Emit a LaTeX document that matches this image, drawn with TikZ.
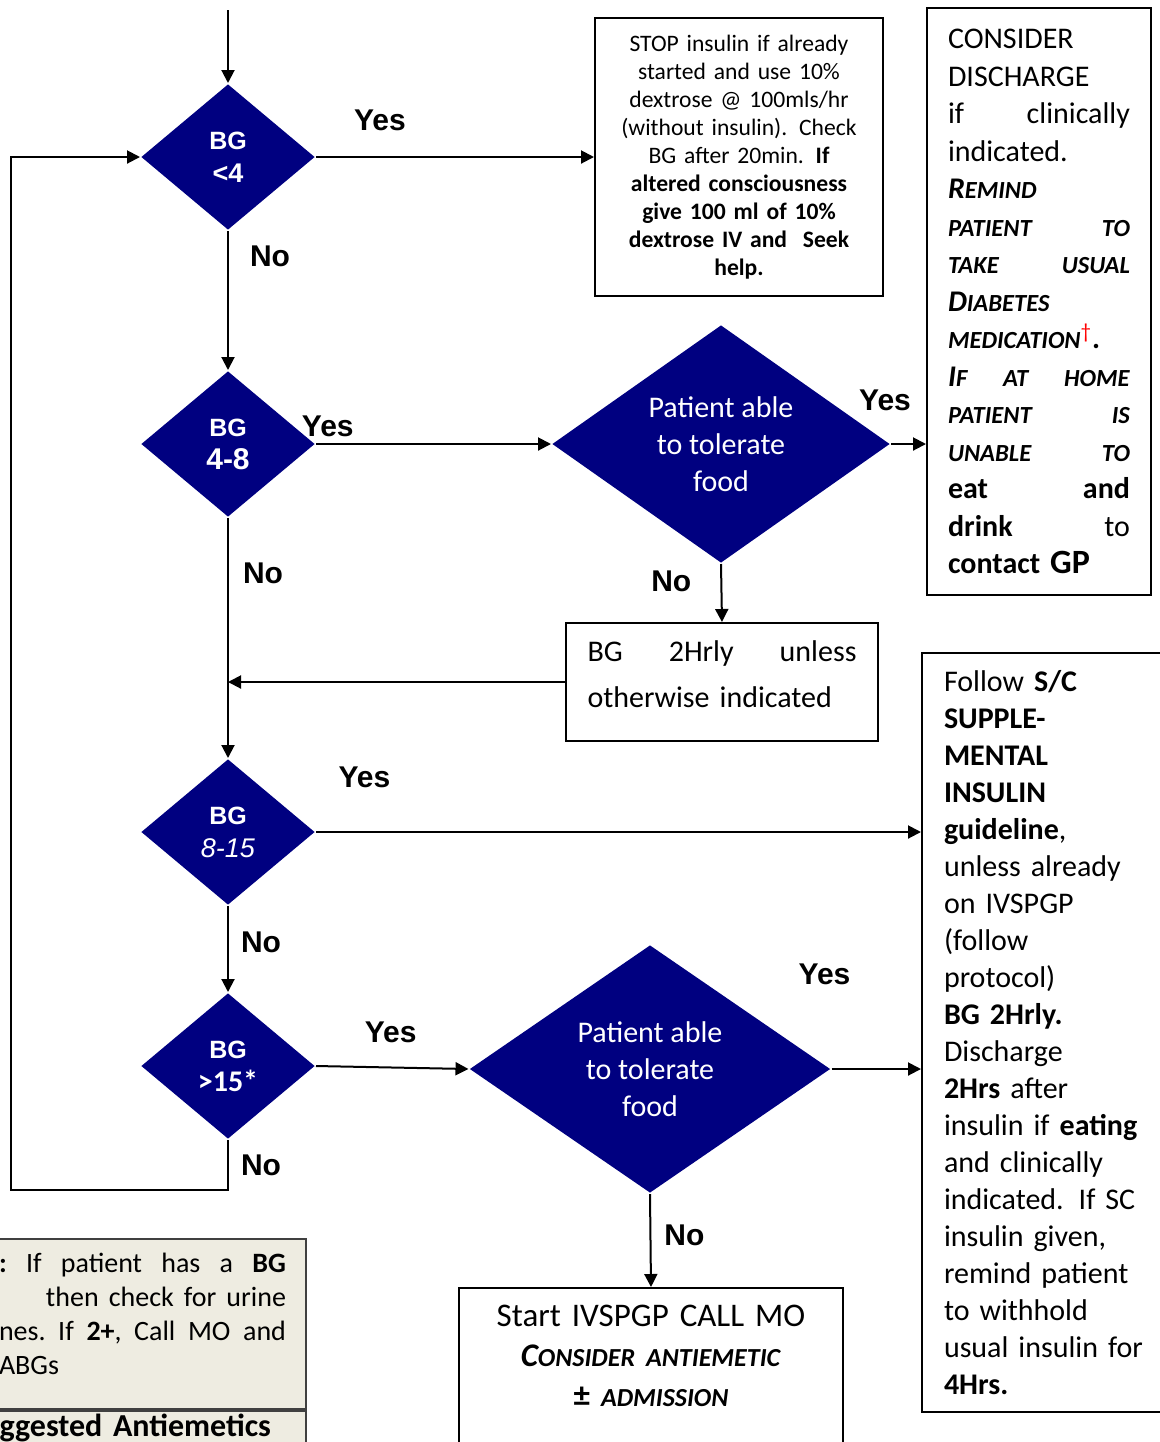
\documentclass[tikz,border=0pt]{standalone}
\usepackage{fontspec}
\setmainfont{Carlito}
\newfontfamily\arialfont{Liberation Sans}
\usepackage{tikz}
\usetikzlibrary{arrows.meta,shapes.geometric}
\definecolor{navy}{RGB}{0,0,128}
\definecolor{notefill}{HTML}{EEECE1}
\definecolor{noteline}{RGB}{64,64,64}
\newcommand{\fsc}[1]{{\fontsize{12.3}{14}\selectfont #1}}

\begin{document}
\begin{tikzpicture}[>={Triangle[length=6.5pt,width=6.5pt]}, x=0.5pt, y=-0.5pt, line width=1pt,
    decision/.style={diamond, aspect=1.4, fill=navy, text=white, inner sep=0pt, align=center},
    bgtest/.style={decision, minimum width=87pt, minimum height=73pt,
      font=\arialfont\bfseries\fontsize{12.5}{16.5}\selectfont},
    foodtest/.style={decision, font=\fontsize{15}{18.5}\selectfont},
    infobox/.style={draw, inner sep=0pt},
    notebox/.style={draw=noteline, fill=notefill, inner ysep=0pt, align=left},
    lbl/.style={inner sep=0pt, font=\arialfont\bfseries\fontsize{15}{18}\selectfont}]
    \useasboundingbox (0,0) rectangle (1160,1442);
    \clip (0,0) rectangle (1160,1442);

    % decisions
    \coordinate (entry) at (228,10);
    \node[bgtest] (bg4)   at (228,157)  {BG\\{\fontsize{13.5}{16.5}\selectfont <4}};
    \node[bgtest] (bg48)  at (228,444)  {BG\\{\fontsize{15}{16.5}\selectfont 4-8}};
    \node[bgtest] (bg815) at (228,832)  {BG\\{\mdseries\itshape\fontsize{13.5}{16.5}\selectfont 8-15}};
    \node[bgtest] (bg15)  at (228,1066) {BG\\{\normalfont\bfseries\fontsize{15}{16.5}\selectfont >15*}};
    \node[foodtest, minimum width=169pt, minimum height=119pt] (food1) at (721,444)
      {Patient able\\to tolerate\\food};
    \node[foodtest, minimum width=180.5pt, minimum height=124pt] (food2) at (650,1069)
      {Patient able\\to tolerate\\food};

    % boxes
    \node[infobox, text width=122pt, minimum width=144pt, minimum height=139pt, align=center,
      font=\fontsize{11.8}{14}\selectfont] (stop) at (739,157) {%
      STOP insulin if already\\
      started and use 10\%\\
      dextrose @ 100mls/hr\\
      (without insulin). Check\\
      BG after 20min. \textbf{If}\\
      \textbf{altered consciousness}\\
      \textbf{give 100 ml of 10\%}\\
      \textbf{dextrose IV and\ \ Seek}\\
      \textbf{help.}};
    \node[infobox, text width=91pt, inner xsep=10.5pt, minimum height=293.5pt, align=left,
      font=\fontsize{15}{18.75}\selectfont] (discharge) at (1039,301.5) {%
      CONSIDER\\
      DISCHARGE\\
      if\hfill clinically\\
      indicated.\\
      \textbf{\textit{R\fsc{EMIND}}}\\
      \textbf{\textit{\fsc{PATIENT\hfill TO}}}\\
      \textbf{\textit{\fsc{TAKE\hfill USUAL}}}\\
      \textbf{\textit{D\fsc{IABETES}}}\\
      \textbf{\textit{\fsc{MEDICATION}}}\textsuperscript{\textcolor{red}{\textdagger}}\textbf{.}\\
      \textbf{\textit{I\fsc{F\hfill AT\hfill HOME}}}\\
      \textbf{\textit{\fsc{PATIENT\hfill IS}}}\\
      \textbf{\textit{\fsc{UNABLE\hfill TO}}}\\
      \textbf{eat\hfill and}\\
      \textbf{drink}\hfill to\\
      \textbf{contact {\fontsize{17}{18.75}\selectfont GP}}};
    \node[infobox, anchor=north, text width=134.5pt, minimum width=156pt, align=left,
      font=\fontsize{15}{23}\selectfont] (hrly) at (722,622) {%
      \rule{0pt}{19pt}BG\hfill 2Hrly\hfill unless\\
      otherwise indicated\rule[-17pt]{0pt}{17pt}};
    \node[infobox, anchor=west, text width=106pt, inner xsep=11pt, minimum height=379.5pt,
      align=left, font=\fontsize{15}{18.5}\selectfont] (follow) at (921,1032.5) {%
      Follow \textbf{S/C}\\
      \textbf{SUPPLE-}\\
      \textbf{MENTAL}\\
      \textbf{INSULIN}\\
      \textbf{guideline},\\
      unless already\\
      on IVSPGP\\
      (follow\\
      protocol)\\
      \textbf{BG 2Hrly.}\\
      Discharge\\
      \textbf{2Hrs} after\\
      insulin if \textbf{eating}\\
      and clinically\\
      indicated. If SC\\
      insulin given,\\
      remind patient\\
      to withhold\\
      usual insulin for\\
      \textbf{4Hrs.}};
    \node[infobox, anchor=north, text width=180pt, minimum width=192pt, align=center,
      font=\fontsize{16.5}{20}\selectfont] (ivspgp) at (651,1287) {%
      \rule{0pt}{19pt}Start IVSPGP CALL MO\\
      \textbf{\textit{C{\fontsize{13}{14}\selectfont ONSIDER ANTIEMETIC}}}\\
      \textbf{± \textit{{\fontsize{13}{14}\selectfont ADMISSION}}}\rule[-60pt]{0pt}{60pt}};
    \node[notebox, anchor=north east, text width=143.5pt, inner xsep=10pt,
      font=\fontsize{14}{17}\selectfont] (note) at (307,1238) {%
      \rule{0pt}{16.5pt}\textbf{:}\hfill If\hfill patient\hfill has\hfill a\hfill \textbf{BG}\\
      \hspace*{23.5pt}then\hfill check\hfill for\hfill urine\\
      nes.\hfill If\hfill \textbf{2+},\hfill Call\hfill MO\hfill and\\
      ABGs\rule[-17.5pt]{0pt}{17.5pt}};
    \node[notebox, anchor=north east, text width=140pt, inner xsep=17.5pt, align=right,
      font=\fontsize{16}{18}\selectfont] (antiem) at (307,1410) {%
      \rule{0pt}{12.5pt}\textbf{ggested Antiemetics}\rule[-20pt]{0pt}{20pt}};
    \coordinate (loop) at (11,1190);

    % connectors
    \path (entry)        edge[->] (bg4.north)
          (bg4.east)     edge[->] node[lbl, pos=.23, yshift=18.5pt] (yes1) {Yes} (stop.west)
          (bg4.south)    edge[->] node[lbl, pos=.18, xshift=21pt] (no1) {No} (bg48.north)
          (bg48.east)    edge[->] node[lbl, pos=.05, yshift=9pt] (yes2) {Yes} (food1.west)
          (food1.east)   edge[->] node[lbl, pos=0, xshift=-3pt, yshift=22pt] (yes3) {Yes} (food1.east -| discharge.west)
          (food1.south)  edge[->] node[lbl, pos=.29, xshift=-25pt] (no2) {No} (hrly.north)
          (hrly.west)    edge[->] (hrly.west -| bg48.south)
          (bg48.south)   edge[->] node[lbl, pos=.23, xshift=17.5pt] (no3) {No} (bg815.north)
          (bg815.east)   edge[->] node[lbl, pos=.08, yshift=27.5pt] (yes4) {Yes} (bg815.east -| follow.west)
          (bg815.south)  edge[->] node[lbl, pos=.42, xshift=16.5pt] (no4) {No} (bg15.north)
          (bg15.east)    edge[->] node[lbl, pos=.49, yshift=17.5pt] (yes5) {Yes} (food2.west)
          (food2.east)   edge[->] node[lbl, pos=0, xshift=-3.5pt, yshift=47.5pt] (yes6) {Yes} (food2.east -| follow.west)
          (food2.south)  edge[->] node[lbl, pos=.44, xshift=17pt] (no5) {No} (ivspgp.north);
    \draw[->] (bg15.south) |- node[lbl, pos=.25, xshift=16.5pt] (no6) {No} (loop) |- (bg4.west);
\end{tikzpicture}
\end{document}
